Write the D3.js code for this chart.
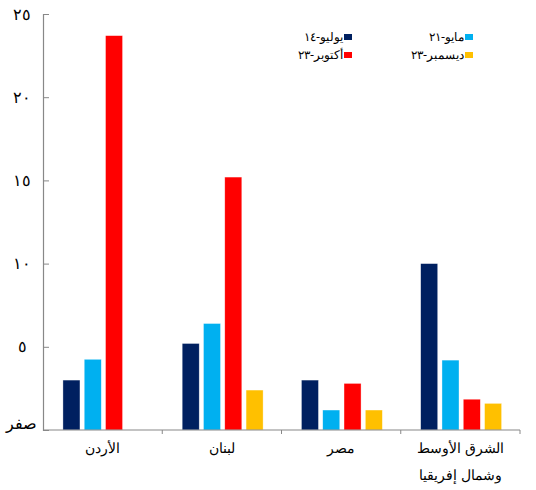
<!DOCTYPE html>
<html>
<head>
<meta charset="utf-8">
<script src="https://cdn.jsdelivr.net/npm/d3@7"></script>
<style>
  body { margin: 0; background: #fff; }
  text { font-family: "Liberation Serif", "DejaVu Serif", serif; }
</style>
</head>
<body>
<script>
let categories = ["الأردن", "لبنان", "مصر", "الشرق الأوسط|وشمال إفريقيا"]
let seriesNames = ["يوليو-١٤", "مايو-٢١", "أكتوبر-٢٣", "ديسمبر-٢٣"]
let seriesColors = ["#002060", "#00b0f0", "#ff0000", "#ffc000"]
let jul14 = [3.0, 5.2, 3.0, 10.0]
let may21 = [4.25, 6.4, 1.2, 4.2]
let oct23 = [23.7, 15.2, 2.8, 1.85]
let dec23 = [null, 2.4, 1.2, 1.6]
let yTicks = [0, 5, 10, 15, 20, 25]
let yTickLabels = ["صفر", "٥", "١٠", "١٥", "٢٠", "٢٥"]

function main(){
    let width = 536, height = 490
    let svg = d3.select("body").append("svg")
        .attr("width", width)
        .attr("height", height)

    let allSeries = [jul14, may21, oct23, dec23]

    let x0 = d3.scaleBand()
        .domain(categories)
        .range([43, 520])
    let x1 = d3.scaleBand()
        .domain(d3.range(4))
        .range([0, x0.bandwidth()])
        .paddingInner(0.2)
        .paddingOuter(0.9)
        .align(0.52)
    let y = d3.scaleLinear()
        .domain([0, 25])
        .range([430, 14])

    // bars
    let groups = svg.selectAll("g.grp")
        .data(categories)
        .enter().append("g")
        .attr("transform", d => `translate(${x0(d)},0)`)
    groups.selectAll("rect")
        .data((d, i) => allSeries.map((s, k) => ({k: k, v: s[i]})).filter(e => e.v != null))
        .enter().append("rect")
        .attr("x", e => x1(e.k))
        .attr("width", x1.bandwidth())
        .attr("y", e => y(e.v))
        .attr("height", e => y(0) - y(e.v))
        .attr("fill", e => seriesColors[e.k])
        .attr("stroke", "#ffffff")
        .attr("stroke-opacity", 0.6)
        .attr("stroke-width", 0.6)

    // y axis
    let yAxis = svg.append("g")
        .attr("transform", "translate(43,0)")
        .call(d3.axisRight(y).tickValues(yTicks).tickSize(6).tickFormat(""))
    yAxis.select(".domain").attr("stroke", "#888").attr("stroke-width", 1.2)
    yAxis.selectAll(".tick line").attr("stroke", "#888")
    svg.selectAll("text.ylab")
        .data(yTicks)
        .enter().append("text")
        .attr("class", "ylab")
        .attr("x", (d, i) => i == 0 ? 21 : 22)
        .attr("y", d => y(d))
        .attr("dy", d => d == 0 ? "-0.05em" : "0.35em")
        .attr("text-anchor", "middle")
        .attr("font-size", "16px")
        .text((d, i) => yTickLabels[i])

    // x axis
    let bounds = categories.map(c => x0(c) + x0.bandwidth())
    svg.append("line")
        .attr("x1", 43).attr("x2", 520)
        .attr("y1", y(0)).attr("y2", y(0))
        .attr("stroke", "#888").attr("stroke-width", 1.2)
    svg.selectAll("line.xt")
        .data(bounds)
        .enter().append("line")
        .attr("class", "xt")
        .attr("x1", d => d).attr("x2", d => d)
        .attr("y1", y(0)).attr("y2", y(0) + 4)
        .attr("stroke", "#888")
    let labels = svg.selectAll("text.xlab")
        .data(categories)
        .enter().append("text")
        .attr("class", "xlab")
        .attr("text-anchor", "middle")
        .attr("font-size", "14px")
        .attr("x", d => x0(d) + x0.bandwidth() / 2)
        .attr("y", 453)
    labels.selectAll("tspan")
        .data(d => d.split("|"))
        .enter().append("tspan")
        .attr("x", function(){ return this.parentNode.getAttribute("x") })
        .attr("dy", (d, i) => i == 0 ? 0 : 27)
        .text(d => d)

    // legend
    let legendPos = [[352, 37], [473, 37], [352, 55], [473, 55]]
    seriesNames.forEach((name, k) => {
        let p = legendPos[k]
        svg.append("rect")
            .attr("x", p[0] - 8).attr("y", p[1] - 3)
            .attr("width", 8).attr("height", 6)
            .attr("fill", seriesColors[k])
        svg.append("text")
            .attr("x", p[0] - 9).attr("y", p[1])
            .attr("dy", "0.35em")
            .attr("text-anchor", "end")
            .attr("font-size", "12px")
            .text(name)
    })
}

main()
</script>
</body>
</html>
